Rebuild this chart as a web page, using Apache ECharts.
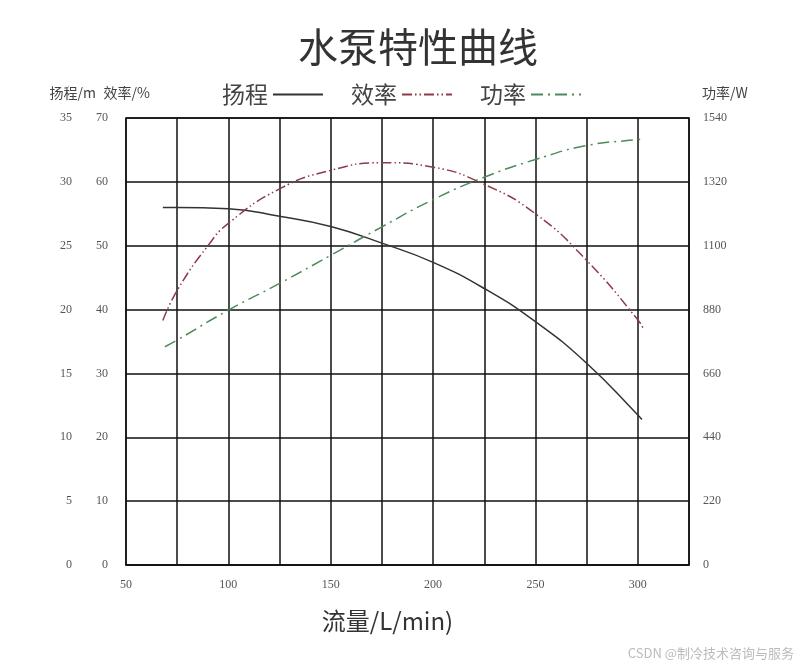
<!DOCTYPE html>
<html>
<head>
<meta charset="utf-8">
<title>水泵特性曲线</title>
<script src="https://cdn.jsdelivr.net/npm/echarts@6/dist/echarts.min.js"></script>
<style>
	html, body { margin: 0; padding: 0; background: #fff; }
	#container { width: 800px; height: 666px; }
</style>
</head>
<body>
<div id="container"></div>
<script>
	// 扬程 (m)
	var headFlow = [68, 75, 100, 125, 150, 175, 200, 225, 250, 275, 300, 302];
	var headVals = [28.0, 28.0, 27.9, 27.3, 26.5, 25.2, 23.7, 21.65, 19.05, 15.8, 11.75, 11.4];
	// 效率 (%)
	var effFlow = [68, 75, 90, 100, 125, 150, 175, 200, 225, 250, 275, 300, 303];
	var effVals = [38.3, 43, 50, 53.5, 58.9, 61.8, 63.0, 62.3, 59.6, 55.0, 47.7, 38.4, 36.8];
	// 功率 (W)
	var powFlow = [69, 75, 100, 125, 150, 175, 200, 225, 250, 275, 300, 302];
	var powVals = [752, 775, 878, 970, 1067, 1165, 1259, 1336, 1397, 1445, 1466, 1468];

	var xLabels = [50, 100, 150, 200, 250, 300];

	function zip(xs, ys){
		var out = [];
		for(var i = 0; i < xs.length; i++){
			out.push([xs[i], ys[i]]);
		}
		return out;
	}

	var tickFont = { fontFamily: 'Liberation Serif', fontSize: 12, color: '#555' };

	var myChart = echarts.init(document.getElementById('container'));
	var option = {
		backgroundColor: '#fff',
		animation: false,
		title: {
			text: '水泵特性曲线',
			left: 293,
			top: 22,
			textStyle: { fontFamily: 'Noto Sans CJK SC', fontSize: 40, fontWeight: 'normal', color: '#333' }
		},
		legend: {
			left: 217,
			top: 78,
			align: 'right',
			itemWidth: 50,
			itemHeight: 12,
			itemGap: 27,
			itemStyle: { opacity: 0, borderWidth: 0 },
			textStyle: { fontFamily: 'Noto Sans CJK SC', fontSize: 23, color: '#444' },
			data: ['扬程', '效率', '功率']
		},
		grid: {
			left: 126,
			right: 111,
			top: 118,
			bottom: 101,
			show: true,
			borderColor: '#111',
			borderWidth: 1.5
		},
		xAxis: {
			type: 'value',
			min: 50,
			max: 325,
			interval: 25,
			name: '流量/L/min)',
			nameLocation: 'middle',
			nameGap: 44,
			nameTextStyle: { fontFamily: 'Noto Sans CJK SC', fontSize: 24, color: '#333', padding: [0, 40, 0, 0] },
			axisLine: { show: true, lineStyle: { color: '#111', width: 1.5 } },
			axisTick: { show: false },
			splitLine: { show: true, lineStyle: { color: '#111', width: 1.5 } },
			axisLabel: Object.assign({
				margin: 14,
				formatter: function(v){
					return xLabels.indexOf(v) >= 0 ? String(v) : '';
				}
			}, tickFont)
		},
		yAxis: [{
			// 扬程
			type: 'value',
			position: 'left',
			offset: 36,
			min: 0,
			max: 35,
			interval: 5,
			name: '扬程/m',
			nameLocation: 'end',
			nameGap: 18,
			nameTextStyle: { fontFamily: 'Noto Sans CJK SC', fontSize: 14, color: '#444', align: 'right', padding: [0, -6, 0, 0] },
			axisLine: { show: false },
			axisTick: { show: false },
			splitLine: { show: false },
			axisLabel: Object.assign({ margin: 18 }, tickFont)
		}, {
			// 效率
			type: 'value',
			position: 'left',
			offset: 0,
			min: 0,
			max: 70,
			interval: 10,
			name: '效率/%',
			nameLocation: 'end',
			nameGap: 18,
			nameTextStyle: { fontFamily: 'Noto Sans CJK SC', fontSize: 14, color: '#444', align: 'right', padding: [0, -24, 0, 0] },
			axisLine: { show: false },
			axisTick: { show: false },
			splitLine: { show: true, lineStyle: { color: '#111', width: 1.5 } },
			axisLabel: Object.assign({ margin: 18 }, tickFont)
		}, {
			// 功率
			type: 'value',
			position: 'right',
			min: 0,
			max: 1540,
			interval: 220,
			name: '功率/W',
			nameLocation: 'end',
			nameGap: 18,
			nameTextStyle: { fontFamily: 'Noto Sans CJK SC', fontSize: 14, color: '#444', align: 'left', padding: [0, 0, 0, 13] },
			axisLine: { show: false },
			axisTick: { show: false },
			splitLine: { show: false },
			axisLabel: Object.assign({
				margin: 14,
				formatter: function(v){ return String(v); }
			}, tickFont)
		}],
		series: [{
			name: '扬程',
			type: 'line',
			yAxisIndex: 0,
			smooth: true,
			symbol: 'none',
			data: zip(headFlow, headVals),
			itemStyle: { color: '#333' },
			lineStyle: { color: '#333', width: 1.5, type: 'solid' }
		}, {
			name: '效率',
			type: 'line',
			yAxisIndex: 1,
			smooth: true,
			symbol: 'none',
			data: zip(effFlow, effVals),
			itemStyle: { color: '#8e3a48' },
			lineStyle: { color: '#8e3a48', width: 1.5, type: [10, 3, 1.5, 3, 1.5, 3] }
		}, {
			name: '功率',
			type: 'line',
			yAxisIndex: 2,
			smooth: true,
			symbol: 'none',
			data: zip(powFlow, powVals),
			itemStyle: { color: '#4f8a5c' },
			lineStyle: { color: '#4f8a5c', width: 1.5, type: [12, 5, 2, 5] }
		}],
		graphic: [{
			type: 'text',
			right: 6,
			bottom: 6,
			style: { text: 'CSDN @制冷技术咨询与服务', fontFamily: 'Noto Sans CJK SC', fontSize: 13, fill: '#bbb' }
		}]
	};
	myChart.setOption(option);
</script>
</body>
</html>
